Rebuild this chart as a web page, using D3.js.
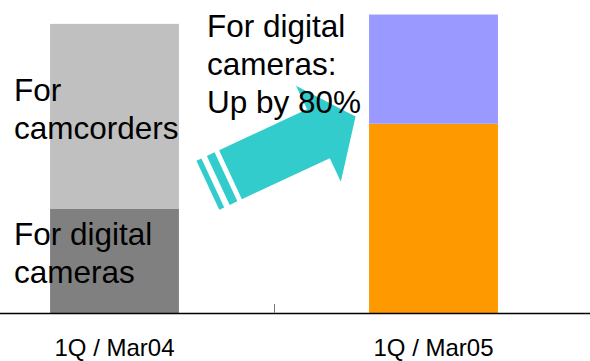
<!DOCTYPE html>
<html>
<head>
<meta charset="utf-8">
<script src="https://cdn.jsdelivr.net/npm/d3@7"></script>
<style>
  html, body { margin: 0; padding: 0; background: #fff; }
  svg { display: block; font-family: "Liberation Sans", Arial, sans-serif; }
</style>
</head>
<body>
<svg id="chart" width="590" height="361"></svg>
<script>
// Quarterly volumes (index units) by product segment
const categories = ["1Q / Mar04", "1Q / Mar05"];
const digitalCameras = [100, 182];
const camcorders = [178, 105];
const seriesKeys = ["digital", "camcorder"];
const seriesColors = ["#808080", "#C0C0C0"];
const seriesColors05 = ["#FF9900", "#9999FF"];

const rows = categories.map((c, i) => ({
  cat: c,
  digital: digitalCameras[i],
  camcorder: camcorders[i]
}));

const W = 590, H = 361, baseY = 313;
const svg = d3.select("#chart");

const x = d3.scaleBand()
  .domain(categories)
  .range([-45, 593])
  .paddingInner(0.596)
  .paddingOuter(0.298);

const y = d3.scaleLinear().domain([0, 300]).range([baseY, 1]);

const stacked = d3.stack().keys(seriesKeys)(rows);

// stacked bars: first quarter in greys, second in colour
svg.append("g").selectAll("g")
  .data(stacked)
  .join("g")
  .selectAll("rect")
  .data((s, si) => s.map((d, i) => ({ d, si, i })))
  .join("rect")
  .attr("x", o => x(o.d.data.cat))
  .attr("width", x.bandwidth())
  .attr("y", o => y(o.d[1]))
  .attr("height", o => y(o.d[0]) - y(o.d[1]))
  .attr("fill", o => (o.i === 0 ? seriesColors : seriesColors05)[o.si]);

// category axis along the baseline
const axis = svg.append("g")
  .attr("transform", `translate(0,${baseY})`)
  .call(d3.axisBottom(x).tickSize(0).tickPadding(0));
axis.select(".domain").remove();
axis.selectAll("text")
  .attr("y", 43)
  .attr("dy", 0)
  .attr("font-size", 24)
  .attr("font-family", "Liberation Sans, Arial, sans-serif")
  .attr("fill", "#000");

svg.append("line")
  .attr("x1", 0).attr("x2", W)
  .attr("y1", baseY + 0.5).attr("y2", baseY + 0.5)
  .attr("stroke", "#000").attr("stroke-width", 1.4);

// divider tick between the two quarters
const midX = (x(categories[0]) + x.bandwidth() / 2 + x(categories[1]) + x.bandwidth() / 2) / 2;
svg.append("line")
  .attr("x1", Math.round(midX) + 0.5).attr("x2", Math.round(midX) + 0.5)
  .attr("y1", baseY - 9).attr("y2", baseY)
  .attr("stroke", "#777").attr("stroke-width", 1);

// growth arrow, built along its own axis then rotated into place
const arrow = svg.append("g")
  .attr("transform", "translate(230.5,174.7) rotate(-25)")
  .attr("fill", "#33CCCC");
arrow.append("path")
  .attr("d", "M0,-27 L97,-27 L97,-53 L138,0 L97,53 L97,27 L0,27 Z");
arrow.append("rect").attr("x", -13.5).attr("y", -27).attr("width", 8.5).attr("height", 54);
arrow.append("rect").attr("x", -25).attr("y", -27).attr("width", 5.5).attr("height", 54);

// annotations
const notes = [
  { x: 14, y: 101, lines: ["For", "camcorders"] },
  { x: 14, y: 245, lines: ["For digital", "cameras"] },
  { x: 207, y: 37, lines: ["For digital", "cameras:", "Up by 80%"] }
];
notes.forEach(n => {
  const t = svg.append("text")
    .attr("x", n.x).attr("y", n.y)
    .attr("font-size", 31.5)
    .attr("fill", "#000");
  n.lines.forEach((l, i) => {
    t.append("tspan").attr("x", n.x).attr("dy", i === 0 ? 0 : 38).text(l);
  });
});
</script>
</body>
</html>
